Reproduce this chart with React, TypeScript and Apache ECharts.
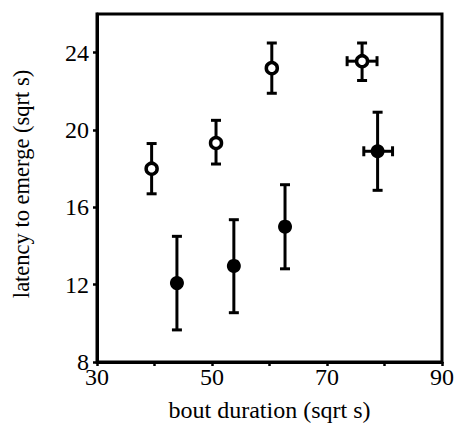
import React, { useEffect, useRef } from "react";
import * as echarts from "echarts";

// Open circles group
const openX = [39.5, 50.7, 60.4, 76.1];
const openY = [18.0, 19.33, 23.2, 23.56];
const openYLow = [16.7, 18.24, 21.9, 22.56];
const openYHigh = [19.3, 20.5, 24.5, 24.5];
const openXLow = [39.5, 50.7, 60.4, 73.5];
const openXHigh = [39.5, 50.7, 60.4, 78.7];

// Filled circles group
const fillX = [43.9, 53.8, 62.7, 78.8];
const fillY = [12.08, 12.97, 15.0, 18.9];
const fillYLow = [9.66, 10.55, 12.82, 16.88];
const fillYHigh = [14.5, 15.36, 17.17, 20.92];
const fillXLow = [43.9, 53.8, 62.7, 76.4];
const fillXHigh = [43.9, 53.8, 62.7, 81.4];

const xTicks = [30, 40, 50, 60, 70, 80, 90];
const xLabels = [30, 50, 70, 90];
const yTicks = [8, 12, 16, 20, 24];

const FONT = "Times New Roman, Liberation Serif, serif";
const FS = 24;

function errData(x: number[], y: number[], yl: number[], yh: number[], xl: number[], xh: number[]) {
  return x.map((v, i) => [v, y[i], yl[i], yh[i], xl[i], xh[i]]);
}

function renderErr(params: any, api: any) {
  const x = api.value(0);
  const y = api.value(1);
  const yl = api.value(2);
  const yh = api.value(3);
  const xl = api.value(4);
  const xh = api.value(5);
  const pLow = api.coord([x, yl]);
  const pHigh = api.coord([x, yh]);
  const pL = api.coord([xl, y]);
  const pR = api.coord([xh, y]);
  const cap = 5;
  const style = { stroke: "#000", lineWidth: 3 };
  const children: any[] = [
    { type: "line", shape: { x1: pLow[0], y1: pLow[1], x2: pHigh[0], y2: pHigh[1] }, style },
    { type: "line", shape: { x1: pLow[0] - cap, y1: pLow[1], x2: pLow[0] + cap, y2: pLow[1] }, style },
    { type: "line", shape: { x1: pHigh[0] - cap, y1: pHigh[1], x2: pHigh[0] + cap, y2: pHigh[1] }, style },
  ];
  if (xh - xl > 0.01) {
    children.push(
      { type: "line", shape: { x1: pL[0], y1: pL[1], x2: pR[0], y2: pR[1] }, style },
      { type: "line", shape: { x1: pL[0], y1: pL[1] - cap, x2: pL[0], y2: pL[1] + cap }, style },
      { type: "line", shape: { x1: pR[0], y1: pR[1] - cap, x2: pR[0], y2: pR[1] + cap }, style }
    );
  }
  return { type: "group", children };
}

export default function App() {
  const ref = useRef<HTMLDivElement>(null);
  useEffect(() => {
    if (!ref.current) return;
    const chart = echarts.init(ref.current, undefined, { renderer: "svg" });
    chart.setOption({
      animation: false,
      backgroundColor: "#fff",
      textStyle: { fontFamily: FONT },
      grid: {
        left: 97,
        right: 13,
        top: 14,
        bottom: 67,
        show: true,
        borderColor: "#000",
        borderWidth: 3,
        backgroundColor: "transparent",
      },
      xAxis: {
        type: "value",
        min: 30,
        max: 90,
        interval: 10,
        name: "bout duration (sqrt s)",
        nameLocation: "middle",
        nameGap: 36,
        nameTextStyle: { fontFamily: FONT, fontSize: FS, color: "#000" },
        axisLine: { show: true, onZero: false, lineStyle: { color: "#000", width: 3 } },
        axisTick: { show: true, length: 4, lineStyle: { color: "#000", width: 2.5 }, customValues: xTicks },
        axisLabel: {
          fontFamily: FONT,
          fontSize: FS,
          color: "#000",
          margin: 3,
          customValues: xLabels,
        },
        splitLine: { show: false },
      },
      yAxis: {
        type: "value",
        min: 8,
        max: 26,
        interval: 4,
        name: "latency to emerge (sqrt s)",
        nameLocation: "middle",
        nameGap: 64,
        nameTextStyle: { fontFamily: FONT, fontSize: 22.5, color: "#000", padding: [0, 0, 0, 8] },
        axisLine: { show: true, onZero: false, lineStyle: { color: "#000", width: 3 } },
        axisTick: { show: true, length: 4, lineStyle: { color: "#000", width: 2.5 }, customValues: yTicks },
        axisLabel: {
          fontFamily: FONT,
          fontSize: FS,
          color: "#000",
          margin: 8,
          customValues: yTicks,
        },
        splitLine: { show: false },
      },
      series: [
        {
          type: "custom",
          renderItem: renderErr,
          data: errData(openX, openY, openYLow, openYHigh, openXLow, openXHigh),
          encode: { x: 0, y: 1 },
          z: 1,
        },
        {
          type: "custom",
          renderItem: renderErr,
          data: errData(fillX, fillY, fillYLow, fillYHigh, fillXLow, fillXHigh),
          encode: { x: 0, y: 1 },
          z: 1,
        },
        {
          type: "scatter",
          data: openX.map((v, i) => [v, openY[i]]),
          symbol: "circle",
          symbolSize: 11,
          itemStyle: { color: "#fff", borderColor: "#000", borderWidth: 3.5, opacity: 1 },
          z: 3,
        },
        {
          type: "scatter",
          data: fillX.map((v, i) => [v, fillY[i]]),
          symbol: "circle",
          symbolSize: 14,
          itemStyle: { color: "#000", opacity: 1 },
          z: 3,
        },
      ],
    });
    return () => chart.dispose();
  }, []);
  return <div ref={ref} style={{ width: 457, height: 429, position: "absolute", left: 0, top: 0 }} />;
}
